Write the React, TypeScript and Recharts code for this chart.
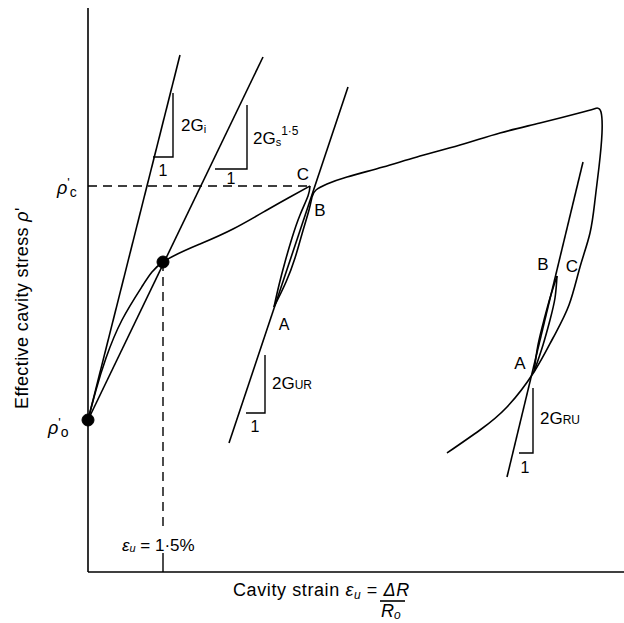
import React from 'react';
import { ComposedChart, Line, XAxis, YAxis, ReferenceDot } from 'recharts';

// strain in %, stress in arbitrary units
const P0 = 38;
const PC = 96.5;
const STRAIN_AT_SECANT = 1.5;

const loading = [
    { x: 0, y: 38 }, { x: 0.16, y: 45.5 }, { x: 0.36, y: 53.5 }, { x: 0.68, y: 63 },
    { x: 1.1, y: 71.75 }, { x: 1.5, y: 77.5 }, { x: 2.24, y: 82 }, { x: 2.9, y: 85.75 },
    { x: 3.58, y: 90.5 }, { x: 4.04, y: 93.75 }, { x: 4.44, y: 96.5 },
];

const unloadLeft = [
    { x: 4.44, y: 96.5 }, { x: 4.4, y: 94 }, { x: 4.24, y: 89.25 }, { x: 4.08, y: 83.5 },
    { x: 3.94, y: 77.5 }, { x: 3.82, y: 71.75 }, { x: 3.72, y: 66.25 },
];

const reloading = [
    { x: 3.72, y: 66.25 }, { x: 3.96, y: 72.5 }, { x: 4.14, y: 78.5 }, { x: 4.28, y: 84.5 },
    { x: 4.42, y: 90.5 }, { x: 4.48, y: 93.75 }, { x: 4.56, y: 95.5 }, { x: 4.78, y: 97 },
    { x: 5.18, y: 98.75 }, { x: 5.9, y: 101.25 }, { x: 6.58, y: 103.75 }, { x: 7.44, y: 106.75 },
    { x: 8.24, y: 109.75 }, { x: 9.04, y: 112.25 }, { x: 9.9, y: 115 }, { x: 10.18, y: 116 },
];

const unloading = [
    { x: 10.18, y: 116 }, { x: 10.26, y: 115 }, { x: 10.28, y: 109.75 }, { x: 10.22, y: 101.25 },
    { x: 10.14, y: 93 }, { x: 10.04, y: 84.75 }, { x: 9.84, y: 76.25 }, { x: 9.62, y: 66.75 },
    { x: 9.3, y: 58.5 }, { x: 8.92, y: 50 }, { x: 8.38, y: 41.25 }, { x: 7.84, y: 35.5 },
    { x: 7.18, y: 29.75 },
];

const loopRightA = [
    { x: 8.92, y: 50 }, { x: 9.0, y: 56.75 }, { x: 9.12, y: 63 }, { x: 9.24, y: 68.5 }, { x: 9.38, y: 74 },
];
const loopRightB = [
    { x: 8.92, y: 50 }, { x: 9.1, y: 56.75 }, { x: 9.24, y: 63 }, { x: 9.34, y: 68.5 }, { x: 9.38, y: 74 },
];

// tangent / secant moduli
const initialTangent = [{ x: 0, y: 38 }, { x: 1.84, y: 129.25 }];
const secant = [{ x: 0, y: 38 }, { x: 3.5, y: 128.75 }];
const unloadReloadTangent = [{ x: 2.82, y: 32.25 }, { x: 5.2, y: 121.25 }];
const reloadUnloadTangent = [{ x: 8.38, y: 23.75 }, { x: 9.9, y: 102.5 }];

// slope triangles
const triGi = [{ x: 1.3, y: 103.75 }, { x: 1.7, y: 103.75 }, { x: 1.7, y: 119.75 }];
const triGs = [{ x: 2.54, y: 100.75 }, { x: 3.18, y: 100.75 }, { x: 3.18, y: 116.75 }];
const triGur = [{ x: 3.16, y: 39.75 }, { x: 3.54, y: 39.75 }, { x: 3.54, y: 54.25 }];
const triGru = [{ x: 8.62, y: 29.75 }, { x: 8.9, y: 29.75 }, { x: 8.9, y: 46 }];

const pcGuide = [{ x: 0, y: PC }, { x: 4.44, y: PC }];
const strainGuideTop = [{ x: STRAIN_AT_SECANT, y: 77.5 }, { x: STRAIN_AT_SECANT, y: 11.25 }];
const strainGuideBottom = [{ x: STRAIN_AT_SECANT, y: 4.75 }, { x: STRAIN_AT_SECANT, y: 0 }];

const FONT = '"Liberation Sans", Arial, sans-serif';

const txt = (content: React.ReactNode, size = 17, anchor: 'start' | 'middle' | 'end' = 'start') =>
    (p: any) => (
        <text
            x={p.cx}
            y={p.cy}
            fontSize={size}
            fontFamily={FONT}
            textAnchor={anchor}
            dominantBaseline="central"
            fill="#000"
        >
            {content}
        </text>
    );

const StressTick = (props: any) => {
    const { x, y, payload } = props;
    const isPc = payload.value === PC;
    return (
        <text x={isPc ? x - 23 : x - 32} y={isPc ? y + 2 : y + 8} fontFamily={FONT} fontSize={18} fill="#000" dominantBaseline="central">
            <tspan fontStyle="italic">ρ</tspan>
            <tspan fontSize={13} dy={-6}>'</tspan>
            <tspan fontSize={14} dy={10}>{isPc ? 'c' : 'o'}</tspan>
        </text>
    );
};

const App: React.FC = () => {
    const line = (data: { x: number; y: number }[], key: string, opts: any = {}) => (
        <Line
            key={key}
            data={data}
            dataKey="y"
            type={opts.type ?? 'linear'}
            stroke="#000"
            strokeWidth={opts.width ?? 1.6}
            strokeDasharray={opts.dash}
            dot={false}
            activeDot={false}
            isAnimationActive={false}
        />
    );

    return (
        <div style={{ position: 'fixed', left: 0, top: 0, background: '#fff' }}>
            <ComposedChart width={624} height={623} margin={{ top: 8, right: 0, left: 0, bottom: 0 }}>
                <XAxis
                    type="number"
                    dataKey="x"
                    domain={[0, 10.72]}
                    allowDataOverflow
                    tick={false}
                    tickLine={false}
                    height={51}
                    axisLine={{ stroke: '#000', strokeWidth: 1.6 }}
                    label={{
                        content: () => (
                            <g fontFamily={FONT} fill="#000">
                                <text x={233} y={596} fontSize={18} letterSpacing={0.6}>
                                    Cavity strain{' '}
                                    <tspan fontStyle="italic">ε</tspan>
                                    <tspan fontStyle="italic" fontSize={12} dy={3}>u</tspan>
                                    <tspan dy={-3}> = </tspan>
                                    <tspan fontStyle="italic">ΔR</tspan>
                                </text>
                                <line x1={380} x2={405} y1={601} y2={601} stroke="#000" strokeWidth={1.6} />
                                <text x={381} y={617} fontSize={18} fontStyle="italic">
                                    R<tspan fontSize={12} dy={2}>o</tspan>
                                </text>
                            </g>
                        ),
                    }}
                />
                <YAxis
                    type="number"
                    domain={[0, 141]}
                    width={88}
                    ticks={[P0, PC]}
                    tick={<StressTick />}
                    tickLine={false}
                    axisLine={{ stroke: '#000', strokeWidth: 1.6 }}
                    label={{
                        content: () => (
                            <text
                                transform="translate(22,308) rotate(-90)"
                                fontFamily={FONT}
                                fontSize={18}
                                letterSpacing={0.4}
                                textAnchor="middle"
                                dominantBaseline="central"
                                fill="#000"
                            >
                                Effective cavity stress <tspan fontStyle="italic">ρ</tspan>'
                            </text>
                        ),
                    }}
                />

                {line(pcGuide, 'pc', { dash: '9 6', width: 1.4 })}
                {line(strainGuideTop, 'sg1', { dash: '9 6', width: 1.4 })}
                {line(strainGuideBottom, 'sg2', { width: 1.4 })}

                {line(initialTangent, 'gi')}
                {line(secant, 'gs')}
                {line(unloadReloadTangent, 'gur')}
                {line(reloadUnloadTangent, 'gru')}

                {line(loading, 'load', { type: 'natural' })}
                {line(unloadLeft, 'ul', { type: 'natural' })}
                {line(reloading, 'rl', { type: 'natural' })}
                {line(unloading, 'unl', { type: 'natural' })}
                {line(loopRightA, 'lra', { type: 'natural' })}
                {line(loopRightB, 'lrb', { type: 'natural' })}

                {line(triGi, 'tgi', { width: 1.4 })}
                {line(triGs, 'tgs', { width: 1.4 })}
                {line(triGur, 'tgur', { width: 1.4 })}
                {line(triGru, 'tgru', { width: 1.4 })}

                <ReferenceDot x={0} y={P0} r={6} fill="#000" stroke="#000" ifOverflow="visible" />
                <ReferenceDot x={STRAIN_AT_SECANT} y={77.5} r={6} fill="#000" stroke="#000" ifOverflow="visible" />

                <ReferenceDot x={1.86} y={111.75} ifOverflow="visible"
                    shape={txt(<>2G<tspan fontSize={11} dy={4}>i</tspan></>)} />
                <ReferenceDot x={1.5} y={100.5} ifOverflow="visible" shape={txt('1', 16, 'middle')} />
                <ReferenceDot x={3.3} y={108.5} ifOverflow="visible"
                    shape={txt(<>2G<tspan fontSize={11} dy={4}>s</tspan><tspan fontSize={12} dy={-11}>1·5</tspan></>)} />
                <ReferenceDot x={2.86} y={98.5} ifOverflow="visible" shape={txt('1', 16, 'middle')} />
                <ReferenceDot x={3.68} y={47.25} ifOverflow="visible"
                    shape={txt(<>2G<tspan fontSize={12} dy={2}>UR</tspan></>)} />
                <ReferenceDot x={3.34} y={36.5} ifOverflow="visible" shape={txt('1', 16, 'middle')} />
                <ReferenceDot x={9.04} y={38.5} ifOverflow="visible"
                    shape={txt(<>2G<tspan fontSize={12} dy={2}>RU</tspan></>)} />
                <ReferenceDot x={8.74} y={26.25} ifOverflow="visible" shape={txt('1', 16, 'middle')} />

                <ReferenceDot x={4.3} y={99.5} ifOverflow="visible" shape={txt('C', 17, 'middle')} />
                <ReferenceDot x={4.64} y={90.5} ifOverflow="visible" shape={txt('B', 17, 'middle')} />
                <ReferenceDot x={3.92} y={62} ifOverflow="visible" shape={txt('A', 16, 'middle')} />
                <ReferenceDot x={8.64} y={52.25} ifOverflow="visible" shape={txt('A', 17, 'middle')} />
                <ReferenceDot x={9.1} y={77} ifOverflow="visible" shape={txt('B', 17, 'middle')} />
                <ReferenceDot x={9.68} y={76.5} ifOverflow="visible" shape={txt('C', 17, 'middle')} />

                <ReferenceDot x={0.68} y={6.75} ifOverflow="visible"
                    shape={txt(<><tspan fontStyle="italic">ε</tspan><tspan fontStyle="italic" fontSize={11} dy={3}>u</tspan><tspan dy={-3}> = 1·5%</tspan></>, 17)} />
            </ComposedChart>
        </div>
    );
};

export default App;
